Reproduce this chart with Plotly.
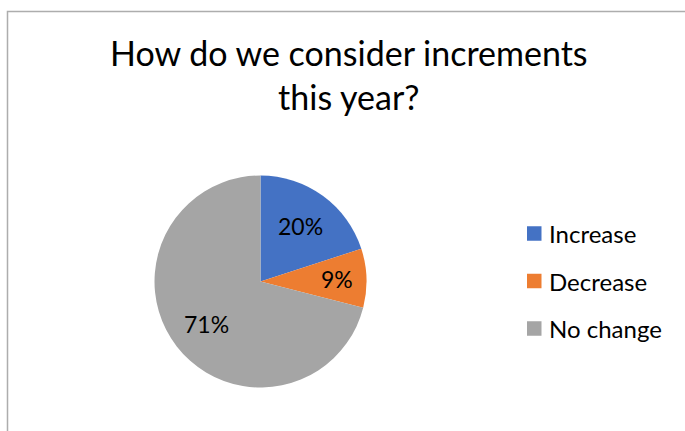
import math
import plotly.graph_objects as go

# Survey answers
categories = ["Increase", "Decrease", "No change"]
shares = [20, 9, 71]
colors = ["#4472C4", "#ED7D31", "#A5A5A5"]
title_lines = ["How do we consider increments", "this year?"]

W, H = 685, 431
FONT = "Lato"

# Pie placement in pixels
cx, cy, r = 260.5, 281.5, 106


def px(x):
    return x / W


def py(y):
    return 1 - y / H


fig = go.Figure(
    go.Pie(
        labels=categories,
        values=shares,
        sort=False,
        direction="clockwise",
        rotation=0,
        marker=dict(colors=colors, line=dict(width=0)),
        textinfo="none",
        hoverinfo="label+percent",
        domain=dict(x=[px(cx - r), px(cx + r)], y=[py(cy + r), py(cy - r)]),
        showlegend=False,
    )
)

annotations = []

# Percentage labels placed along each slice's mid-angle
total = sum(shares)
cum = 0
for v in shares:
    mid = (cum + v / 2) / total * 2 * math.pi
    cum += v
    frac = 0.65 if v / total > 0.15 else 0.72
    lx = cx + frac * r * math.sin(mid)
    ly = cy - frac * r * math.cos(mid)
    annotations.append(
        dict(
            x=px(lx), y=py(ly), xref="paper", yref="paper",
            text=f"{round(v / total * 100)}%", showarrow=False,
            xanchor="center", yanchor="middle",
            font=dict(family=FONT, size=23, color="#000000"),
        )
    )

# Title
annotations.append(
    dict(
        x=px(348.5), y=py(75), xref="paper", yref="paper",
        text="<br>".join(title_lines), showarrow=False,
        xanchor="center", yanchor="middle", align="center",
        font=dict(family=FONT, size=34, color="#000000"),
    )
)

# Legend drawn as swatches with labels
shapes = []
leg_x, leg_y0, leg_dy, sw = 527, 233.5, 47.5, 14.5
for i, (name, col) in enumerate(zip(categories, colors)):
    yc = leg_y0 + i * leg_dy
    shapes.append(
        dict(
            type="rect", xref="paper", yref="paper",
            x0=px(leg_x), x1=px(leg_x + sw), y0=py(yc + sw / 2), y1=py(yc - sw / 2),
            fillcolor=col, line=dict(width=0),
        )
    )
    annotations.append(
        dict(
            x=px(leg_x + sw + 5), y=py(yc), xref="paper", yref="paper",
            text=name, showarrow=False, xanchor="left", yanchor="middle",
            font=dict(family=FONT, size=24, color="#000000"),
        )
    )

# Chart frame (left and top edges)
shapes.append(
    dict(
        type="path", xref="paper", yref="paper",
        path=f"M {px(7.5)} 0 L {px(7.5)} {py(11.5)} L 1 {py(11.5)}",
        line=dict(color="#ADADAD", width=1.5),
    )
)

fig.update_layout(
    width=W, height=H,
    margin=dict(l=0, r=0, t=0, b=0),
    paper_bgcolor="white", plot_bgcolor="white",
    annotations=annotations, shapes=shapes,
)

fig.write_html("out.html")
